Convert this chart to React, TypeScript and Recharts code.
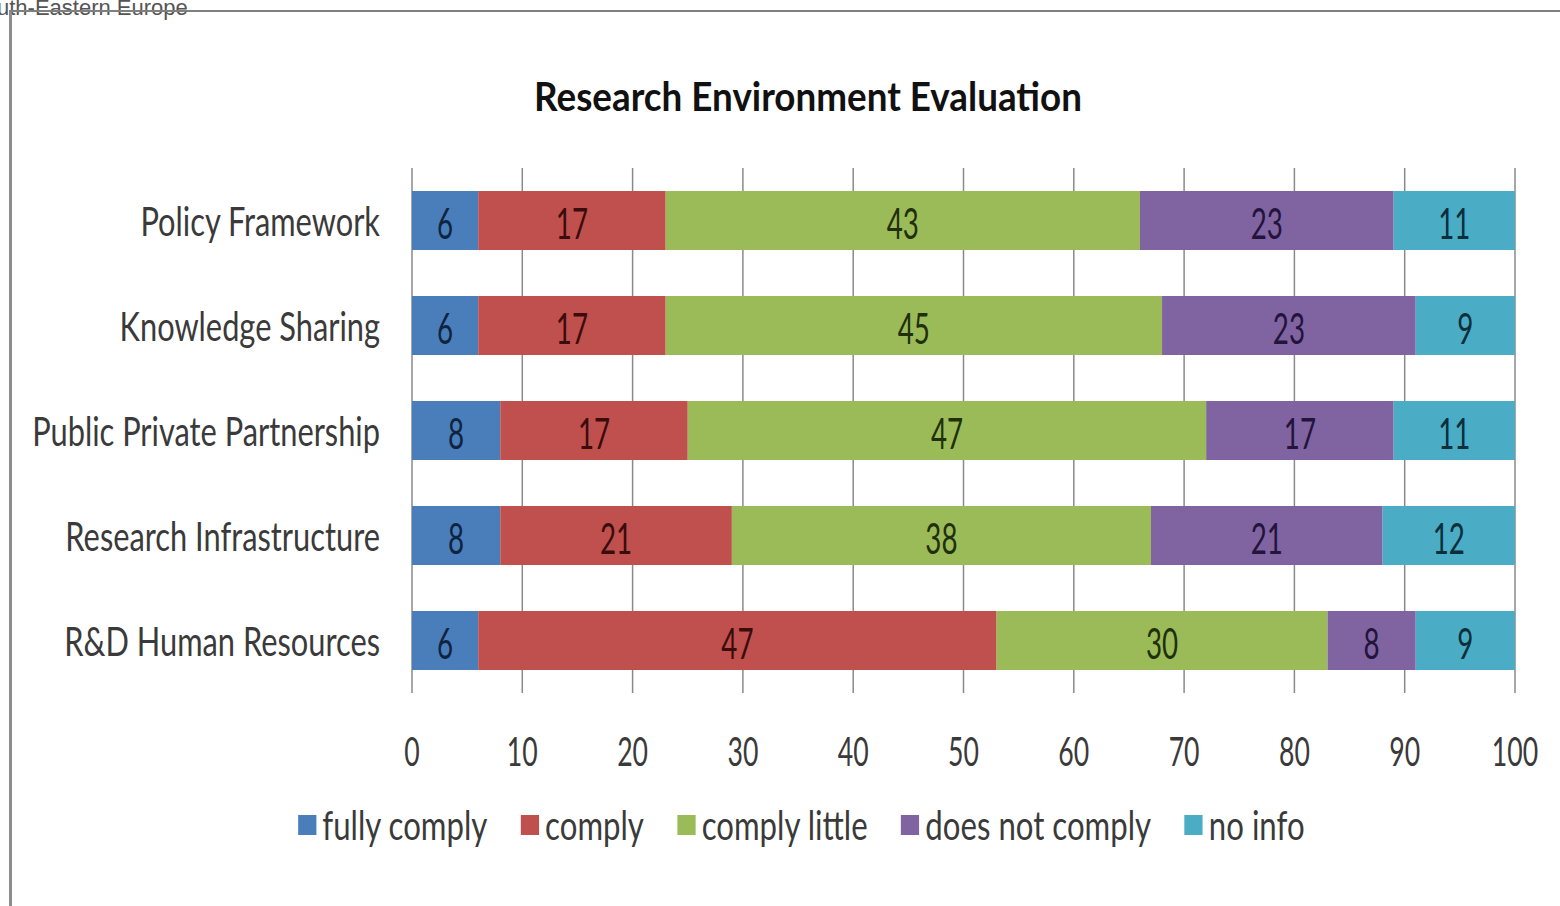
import { BarChart, CartesianGrid, XAxis, YAxis, Bar, LabelList } from "recharts"

const categories = [
    "Policy Framework",
    "Knowledge Sharing",
    "Public Private Partnership",
    "Research Infrastructure",
    "R&D Human Resources",
]
const fullyComply = [6, 6, 8, 8, 6]
const comply = [17, 17, 17, 21, 47]
const complyLittle = [43, 45, 47, 38, 30]
const doesNotComply = [23, 23, 17, 21, 8]
const noInfo = [11, 9, 11, 12, 9]
const xTicks = [0, 10, 20, 30, 40, 50, 60, 70, 80, 90, 100]

const series = [
    { key: "fully", name: "fully comply", values: fullyComply, color: "#4a7ebb", text: "#0f2440" },
    { key: "comply", name: "comply", values: comply, color: "#c0504d", text: "#3a0d0c" },
    { key: "little", name: "comply little", values: complyLittle, color: "#9bbb59", text: "#1f300b" },
    { key: "not", name: "does not comply", values: doesNotComply, color: "#8064a2", text: "#22143a" },
    { key: "noinfo", name: "no info", values: noInfo, color: "#4bacc6", text: "#0c2f3c" },
]

const data = categories.map((name, i) => {
    const row: Record<string, string | number> = { name }
    series.forEach(s => { row[s.key] = s.values[i] })
    return row
})

const FONT = "Lato, 'Open Sans', sans-serif"

const YTick = ({ x, y, payload }: any) => (
    <g transform={`translate(${x - 24},${y}) scale(0.77,1)`}>
        <text textAnchor="end" dominantBaseline="central" fontFamily={FONT} fontSize={40} fill="#3a3a3a">
            {payload.value}
        </text>
    </g>
)

const XTick = ({ x, y, payload }: any) => (
    <g transform={`translate(${x},${y + 49}) scale(0.65,1)`}>
        <text textAnchor="middle" dominantBaseline="central" fontFamily={FONT} fontSize={41} fill="#3a3a3a">
            {payload.value}
        </text>
    </g>
)

const makeLabel = (fill: string) => (props: any) => {
    const { x, y, width, height, value } = props
    return (
        <g transform={`translate(${x + width / 2},${y + height / 2 + 2}) scale(0.66,1)`}>
            <text textAnchor="middle" dominantBaseline="central" fontFamily={FONT} fontSize={42} fill={fill}>
                {value}
            </text>
        </g>
    )
}

export default function App() {
    return (
        <div style={{ position: "absolute", left: 0, top: 0, width: 1560, height: 906, background: "#fff", overflow: "hidden" }}>
            <div style={{ position: "absolute", left: -3, top: -3, fontFamily: "'Liberation Sans', Arial, sans-serif", fontSize: 22, lineHeight: "22px", color: "#555", whiteSpace: "nowrap" }}>
                uth-Eastern Europe
            </div>
            <div style={{ position: "absolute", left: 9, top: 10, width: 1600, height: 1000, borderTop: "2px solid #808080", borderLeft: "3px solid #8c8c8c" }} />
            <div style={{ position: "absolute", left: 0, top: 76, width: 1616, textAlign: "center", fontFamily: FONT, fontWeight: 700, fontSize: 40, lineHeight: "40px", color: "#111", transform: "scaleX(0.92)", transformOrigin: "808px 0" }}>
                Research Environment Evaluation
            </div>
            <div style={{ position: "absolute", left: 0, top: 0 }}>
                <BarChart
                    width={1560}
                    height={906}
                    data={data}
                    layout="vertical"
                    barCategoryGap="22%"
                    margin={{ top: 168, right: 45, left: 0, bottom: 0 }}
                >
                    <CartesianGrid horizontal={false} stroke="#8a8a8a" strokeWidth={1.5} />
                    <XAxis type="number" domain={[0, 100]} ticks={xTicks} axisLine={false} tickLine={false} height={213} tick={<XTick />} interval={0} />
                    <YAxis type="category" dataKey="name" width={412} axisLine={false} tickLine={false} tick={<YTick />} interval={0} />
                    {series.map(s => (
                        <Bar key={s.key} dataKey={s.key} name={s.name} stackId="a" fill={s.color} isAnimationActive={false}>
                            <LabelList dataKey={s.key} content={makeLabel(s.text)} />
                        </Bar>
                    ))}
                </BarChart>
            </div>
            <div style={{ position: "absolute", left: 0, top: 800, width: 1636, display: "flex", justifyContent: "center", alignItems: "center", transform: "scaleX(0.76)", transformOrigin: "818px 0", fontFamily: FONT, fontSize: 41, lineHeight: "50px", color: "#3a3a3a", whiteSpace: "nowrap" }}>
                {series.map(s => (
                    <div key={s.key} style={{ display: "flex", alignItems: "center", marginRight: 44 }}>
                        <span style={{ display: "inline-block", width: 24, height: 20, background: s.color, marginRight: 8 }} />
                        <span>{s.name}</span>
                    </div>
                ))}
            </div>
        </div>
    )
}
